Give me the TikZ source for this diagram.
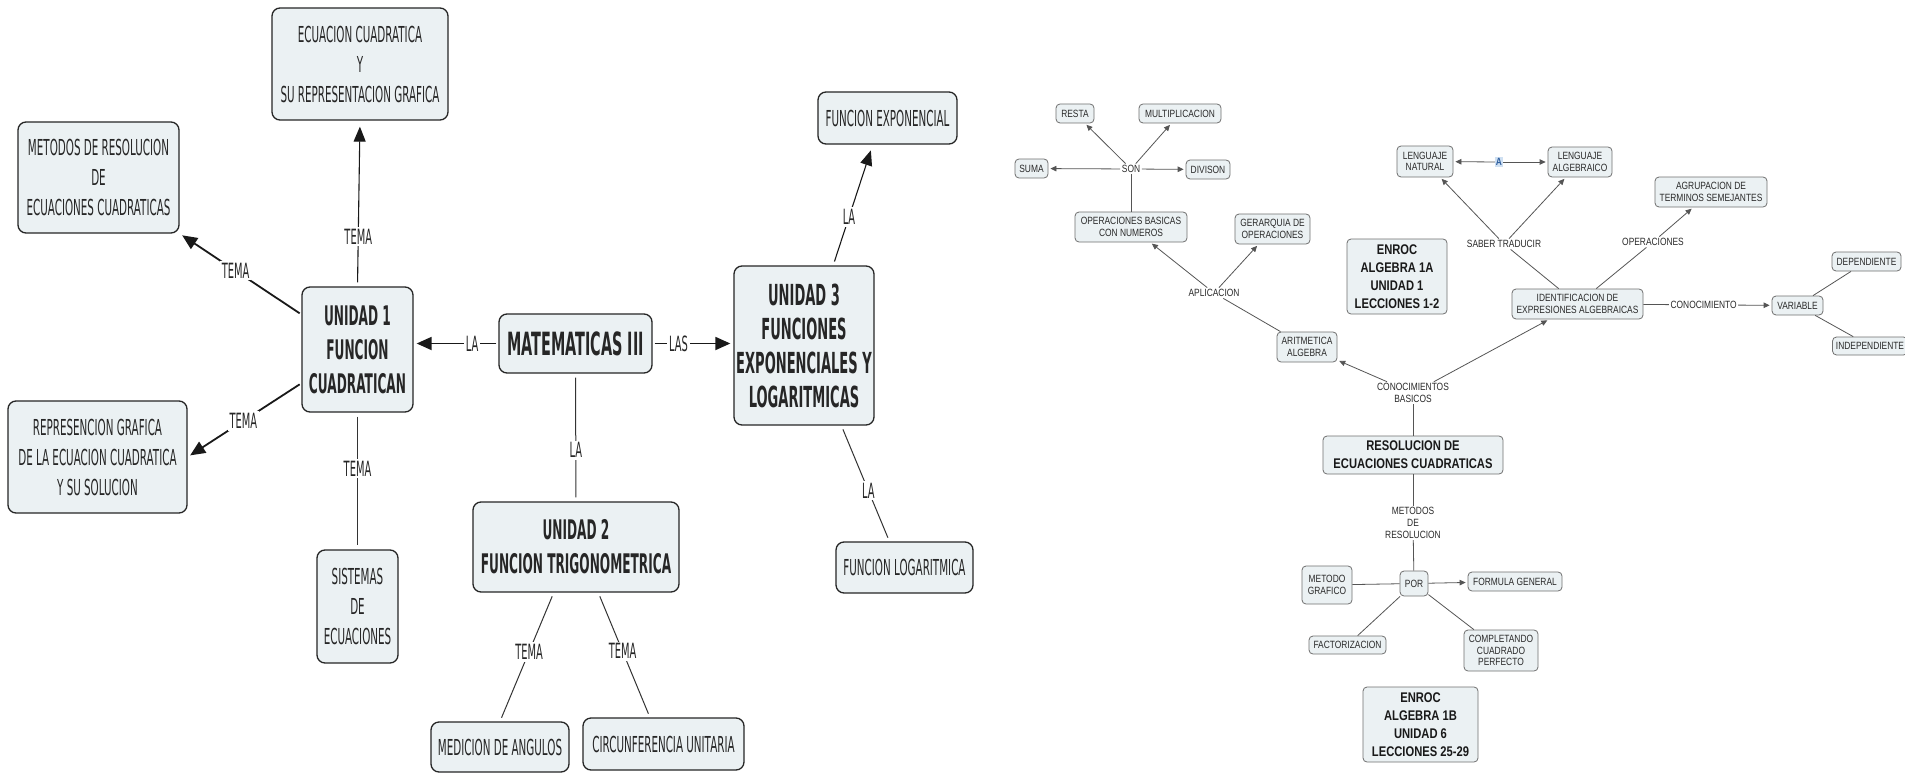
\documentclass[tikz,border=0pt]{standalone}
\usepackage{fontspec}
\usetikzlibrary{arrows.meta}
\newfontfamily\lfont[FakeStretch=0.47]{DejaVu Sans}
\newfontfamily\lbfont[FakeStretch=0.45]{DejaVu Sans}
\newfontfamily\rfont[FakeStretch=0.8]{Liberation Sans}
\definecolor{boxfill}{HTML}{EBF1F3}
\definecolor{rline}{HTML}{555555}
\definecolor{rborder}{HTML}{707070}
\definecolor{rtext}{HTML}{2A2A2A}
\definecolor{abg}{HTML}{CFE0F2}
\definecolor{atext}{HTML}{2F5F9F}
\begin{document}
\begin{tikzpicture}[x=1pt,y=-1pt,
 lbox/.style={draw=black!85, line width=1.3pt, rounded corners=8pt, fill=boxfill, align=center, inner sep=0pt, font=\lfont\fontsize{22}{30}\selectfont, text=black!85},
 lbold/.style={lbox, font=\lbfont\bfseries\fontsize{27}{34}\selectfont},
 llab/.style={fill=white, inner sep=2pt, font=\lfont\fontsize{21}{26}\selectfont, text=black!85},
 lline/.style={draw=black!80, line width=1pt, shorten <=4pt, shorten >=4pt},
 larr/.style={draw=black!90, line width=1.8pt, -{Triangle[length=15pt,width=13pt]}, shorten <=2pt, shorten >=3pt},
 larrthin/.style={draw=black!90, line width=1.1pt, -{Triangle[length=15pt,width=12pt]}, shorten <=4pt, shorten >=6pt},
 rbox/.style={draw=rborder, line width=0.8pt, rounded corners=4pt, fill=boxfill, align=center, inner sep=0pt, font=\rfont\fontsize{10.5}{11.7}\selectfont, text=rtext},
 rbold/.style={rbox, font=\rfont\bfseries\fontsize{14}{17.8}\selectfont, text=black!90},
 rlab/.style={fill=white, inner sep=1.5pt, align=center, font=\rfont\fontsize{10.5}{11.7}\selectfont, text=rtext},
 rline/.style={draw=rline, line width=0.8pt},
 rarr/.style={rline, -{Triangle[length=6pt,width=5.5pt]}, shorten >=2pt}
]
\fill[white] (0,0) rectangle (1905,773);
\useasboundingbox (0,0) rectangle (1905,773);

% ---------- left map ----------
\node[lbox, minimum width=176pt, minimum height=112pt] (ecu) at (360,64) {ECUACION CUADRATICA\\Y\\SU REPRESENTACION GRAFICA};
\node[lbox, minimum width=161pt, minimum height=111pt] (met) at (98.5,177.5) {METODOS DE RESOLUCION\\DE\\ECUACIONES CUADRATICAS};
\node[lbold, minimum width=111pt, minimum height=125pt] (u1) at (357.5,349.5) {UNIDAD 1\\FUNCION\\CUADRATICAN};
\node[lbox, minimum width=179pt, minimum height=112pt] (rep) at (97.5,457) {REPRESENCION GRAFICA\\DE LA ECUACION CUADRATICA\\Y SU SOLUCION};
\node[lbox, minimum width=81pt, minimum height=113pt] (sis) at (357.5,606.5) {SISTEMAS\\DE\\ECUACIONES};
\node[lbold, minimum width=153pt, minimum height=59pt, font=\lbfont\bfseries\fontsize{32}{38}\selectfont] (mat) at (575.5,343.5) {MATEMATICAS III};
\node[lbold, minimum width=140pt, minimum height=159pt, font=\lbfont\bfseries\fontsize{29}{34}\selectfont] (u3) at (804,345.5) {UNIDAD 3\\FUNCIONES\\EXPONENCIALES Y\\LOGARITMICAS};
\node[lbox, minimum width=139pt, minimum height=52pt] (fexp) at (887.5,118) {FUNCION EXPONENCIAL};
\node[lbold, minimum width=206pt, minimum height=90pt] (u2) at (576,547) {UNIDAD 2\\FUNCION TRIGONOMETRICA};
\node[lbox, minimum width=138pt, minimum height=50pt] (med) at (500,747) {MEDICION DE ANGULOS};
\node[lbox, minimum width=161pt, minimum height=52pt] (circ) at (663.5,744) {CIRCUNFERENCIA UNITARIA};
\node[lbox, minimum width=137pt, minimum height=51pt] (flog) at (904.5,567.5) {FUNCION LOGARITMICA};

\draw[larr] (mat.west) -- node[llab, pos=0.31]{LA} (mat.west -| u1.east);
\draw[larr] (mat.east) -- node[llab, pos=0.32]{LAS} (mat.east -| u3.west);
\draw[lline] (mat.south) -- node[llab, pos=0.6]{LA} (u2.north);
\draw[larrthin] (u1.north) -- node[llab, pos=0.3]{TEMA} (ecu.south);
\draw[larr] (u1.148) -- node[llab, pos=0.54]{TEMA} (met.south east);
\draw[larr] (u1.211) -- node[llab, pos=0.51]{TEMA} (rep.east);
\draw[lline] (u1.south) -- node[llab, pos=0.41]{TEMA} (sis.north);
\draw[larrthin] (u3.70.6) -- node[llab, pos=0.4]{LA} (fexp.241);
\draw[lline] (u3.295.5) -- node[llab, pos=0.56]{LA} (flog.120);
\draw[lline] (u2.244) -- node[llab, pos=0.46]{TEMA} (med.north);
\draw[lline] (u2.296) -- node[llab, pos=0.47]{TEMA} (circ.117);

% ---------- right map ----------
\node[rbox, minimum width=38pt, minimum height=19pt] (resta) at (1075,113.5) {RESTA};
\node[rbox, minimum width=82pt, minimum height=19pt] (mult) at (1180,113.5) {MULTIPLICACION};
\node[rbox, minimum width=33pt, minimum height=19pt] (suma) at (1031.5,168.5) {SUMA};
\node[rbox, minimum width=44pt, minimum height=19pt] (divi) at (1208,169.5) {DIVISON};
\node[rbox, minimum width=112pt, minimum height=30pt] (ops) at (1131,227) {OPERACIONES BASICAS\\CON NUMEROS};
\node[rbox, minimum width=75pt, minimum height=30pt] (ger) at (1272.5,229) {GERARQUIA DE\\OPERACIONES};
\node[rbox, minimum width=60pt, minimum height=30pt] (arit) at (1307,347) {ARITMETICA\\ALGEBRA};
\node[rbold, minimum width=100pt, minimum height=75pt] (enr1) at (1397,276.5) {ENROC\\ALGEBRA 1A\\UNIDAD 1\\LECCIONES 1-2};
\node[rbox, minimum width=56pt, minimum height=31pt] (lnat) at (1425,161.5) {LENGUAJE\\NATURAL};
\node[rbox, minimum width=64pt, minimum height=30pt] (lalg) at (1580,162) {LENGUAJE\\ALGEBRAICO};
\node[rbox, minimum width=112pt, minimum height=30pt] (agr) at (1711,192) {AGRUPACION DE\\TERMINOS SEMEJANTES};
\node[rbox, minimum width=131pt, minimum height=30pt] (ident) at (1577.5,304) {IDENTIFICACION DE\\EXPRESIONES ALGEBRAICAS};
\node[rbox, minimum width=51pt, minimum height=19pt] (var) at (1797.5,305.5) {VARIABLE};
\node[rbox, minimum width=69pt, minimum height=19pt] (dep) at (1866.5,261.5) {DEPENDIENTE};
\node[rbox, minimum width=75pt, minimum height=18pt] (indep) at (1870,346) {INDEPENDIENTE};
\node[rbold, minimum width=180pt, minimum height=38pt] (res) at (1413,455) {RESOLUCION DE\\ECUACIONES CUADRATICAS};
\node[rbox, minimum width=28pt, minimum height=25pt] (por) at (1414,583.5) {POR};
\node[rbox, minimum width=50pt, minimum height=38pt] (mgraf) at (1327,585) {METODO\\GRAFICO};
\node[rbox, minimum width=94pt, minimum height=19pt] (fgen) at (1515,581.5) {FORMULA GENERAL};
\node[rbox, minimum width=77pt, minimum height=18pt] (fact) at (1347.5,645) {FACTORIZACION};
\node[rbox, minimum width=74pt, minimum height=41pt] (comp) at (1501,650.5) {COMPLETANDO\\CUADRADO\\PERFECTO};
\node[rbold, minimum width=115pt, minimum height=75pt] (enr2) at (1420.5,724.5) {ENROC\\ALGEBRA 1B\\UNIDAD 6\\LECCIONES 25-29};

\node[rlab] (son) at (1131,169) {SON};
\node[rlab] (apl) at (1214,293) {APLICACION};
\node[rlab] (sabt) at (1504,244) {SABER TRADUCIR};
\node[rlab] (opr) at (1653,242) {OPERACIONES};
\node[rlab] (conb) at (1413,393) {CONOCIMIENTOS\\BASICOS};
\node[rlab] (metr) at (1413,523) {METODOS\\DE\\RESOLUCION};
\node[fill=abg, inner sep=1pt, font=\rfont\bfseries\fontsize{10.5}{11.7}\selectfont, text=atext] (ala) at (1499,162) {A};

\draw[rarr] (son) -- (suma);
\draw[rarr] (son) -- (divi);
\draw[rarr] (son) -- (resta);
\draw[rarr] (son) -- (mult);
\draw[rline] (son) -- (ops);
\draw[rarr] (apl) -- (ops);
\draw[rarr] (apl) -- (ger);
\draw[rline] (apl) -- (arit);
\draw[rarr] (conb) -- (arit);
\draw[rarr] (conb) -- (ident);
\draw[rline] (conb) -- (res);
\draw[rline] (res) -- (metr);
\draw[rline] (metr) -- (por);
\draw[rline] (por) -- (mgraf);
\draw[rarr] (por) -- (fgen);
\draw[rline] (por) -- (fact);
\draw[rline] (por) -- (comp);
\draw[rline] (ident) -- (sabt);
\draw[rarr] (sabt) -- (lnat);
\draw[rarr] (sabt) -- (lalg);
\draw[rarr] (ala) -- (lnat);
\draw[rarr] (ala) -- (lalg);
\draw[rline] (ident) -- (opr);
\draw[rarr] (opr) -- (agr);
\draw[rarr] (ident) -- node[rlab, pos=0.47]{CONOCIMIENTO} (var);
\draw[rline] (var) -- (dep);
\draw[rline] (var) -- (indep);
\end{tikzpicture}
\end{document}
